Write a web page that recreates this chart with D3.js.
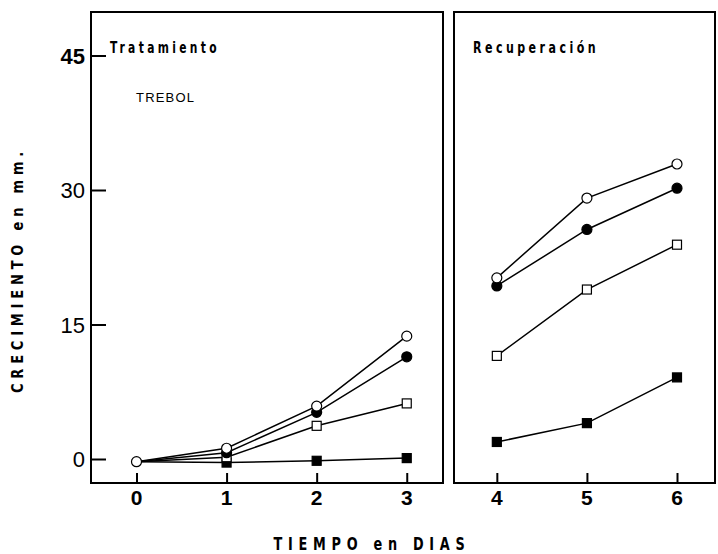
<!DOCTYPE html>
<html><head><meta charset="utf-8">
<script src="https://cdn.jsdelivr.net/npm/d3@7"></script>
<style>body{margin:0;background:#fff}svg{display:block}</style>
</head><body>
<svg id="c" width="718" height="554"></svg>
<script>
const days = [0,1,2,3,4,5,6];
const treatDays = [0,1,2,3];
const recovDays = [4,5,6];
const yTicks = [0,15,30,45];
// series values (mm) per day
const openCircle   = [-0.3, 1.2, 5.9, 13.7, 20.2, 29.1, 32.9];
const filledCircle = [-0.3, 0.7, 5.2, 11.4, 19.3, 25.6, 30.2];
const openSquare   = [-0.3, 0.2, 3.7, 6.2, 11.5, 18.9, 23.9];
const filledSquare = [-0.3, -0.4, -0.2, 0.1, 1.9, 4.0, 9.1];
const seriesList = [
  {name:"filledSquare", vals:filledSquare, shape:"square", fill:"#000"},
  {name:"openSquare", vals:openSquare, shape:"square", fill:"#fff"},
  {name:"filledCircle", vals:filledCircle, shape:"circle", fill:"#000"},
  {name:"openCircle", vals:openCircle, shape:"circle", fill:"#fff"}
];

const svg = d3.select("#c");
const x = d3.scaleLinear().domain([0,6]).range([136.5,677]);
const y = d3.scaleLinear().domain([0,45]).range([459,55.5]);

const bold = "'DejaVu Sans',sans-serif";
const num = "'Liberation Sans','Arial',sans-serif";

function condText(sel, len){
  return sel.attr("textLength",len).attr("lengthAdjust","spacingAndGlyphs");
}

// panels
const panels = [
  {x0:91, x1:443, title:"Tratamiento", tx:110, tlen:110, days:treatDays},
  {x0:454, x1:715, title:"Recuperación", tx:473, tlen:126, days:recovDays}
];
const frameTop = 12, frameBottom = 483;
panels.forEach(p=>{
  svg.append("rect").attr("x",p.x0).attr("y",frameTop).attr("width",p.x1-p.x0).attr("height",frameBottom-frameTop)
    .attr("fill","none").attr("stroke","#000").attr("stroke-width",2);
  condText(svg.append("text").attr("x",p.tx).attr("y",53).text(p.title)
    .attr("font-family",bold).attr("font-weight","bold").attr("font-size",16).attr("letter-spacing",5), p.tlen);
  const ax = d3.axisTop(x).tickValues(p.days).tickSize(10).tickFormat("");
  const g = svg.append("g").attr("transform",`translate(0,${frameBottom})`).call(ax);
  g.select(".domain").remove();
  g.selectAll("line").attr("stroke","#000").attr("stroke-width",2);
  p.days.forEach(d=>{
    svg.append("text").attr("x",x(d)).attr("y",frameBottom+22).attr("text-anchor","middle").text(d)
      .attr("font-family",num).attr("font-weight","bold").attr("font-size",21);
  });
});

// y axis ticks (inward)
const ya = d3.axisRight(y).tickValues(yTicks).tickSize(15).tickFormat("");
const gy = svg.append("g").attr("transform","translate(91,0)").call(ya);
gy.select(".domain").remove();
gy.selectAll("line").attr("stroke","#000").attr("stroke-width",2);
yTicks.forEach(t=>{
  svg.append("text").attr("x",85).attr("y",y(t)+8).attr("text-anchor","end").text(t)
    .attr("font-family",num).attr("font-size",22).attr("font-weight", t===45?"bold":"normal");
});

svg.append("text").attr("x",136).attr("y",102).text("TREBOL")
  .attr("font-family","'Liberation Sans','DejaVu Sans',sans-serif").attr("font-size",13).attr("letter-spacing",1.2);

// axis titles
condText(svg.append("text").attr("transform","translate(23,270) rotate(-90)").attr("text-anchor","middle")
  .text("CRECIMIENTO  en  mm.").attr("font-family",bold).attr("font-weight","bold").attr("font-size",16).attr("letter-spacing",6), 246);
condText(svg.append("text").attr("x",372).attr("y",550).attr("text-anchor","middle")
  .text("TIEMPO  en  DIAS").attr("font-family",bold).attr("font-weight","bold").attr("font-size",18).attr("letter-spacing",8), 197);

// lines & markers
const line = d3.line().x(d=>x(d.d)).y(d=>y(d.v));
const segs = [treatDays, recovDays];
seriesList.forEach(s=>{
  segs.forEach(seg=>{
    svg.append("path").datum(seg.map(d=>({d, v:s.vals[d]})))
      .attr("d",line).attr("fill","none").attr("stroke","#000").attr("stroke-width",1.5);
  });
});
seriesList.forEach(s=>{
  const pts = days.filter(d=> d>0 || s.name==="openCircle").map(d=>({d, v:s.vals[d]}));
  if(s.shape==="circle"){
    svg.selectAll(null).data(pts).enter().append("circle")
      .attr("cx",d=>x(d.d)).attr("cy",d=>y(d.v)).attr("r",5)
      .attr("fill",s.fill).attr("stroke","#000").attr("stroke-width",1.2);
  } else {
    svg.selectAll(null).data(pts).enter().append("rect")
      .attr("x",d=>x(d.d)-4.5).attr("y",d=>y(d.v)-4.5).attr("width",9).attr("height",9)
      .attr("fill",s.fill).attr("stroke","#000").attr("stroke-width",1.2);
  }
});
</script>
</body></html>
